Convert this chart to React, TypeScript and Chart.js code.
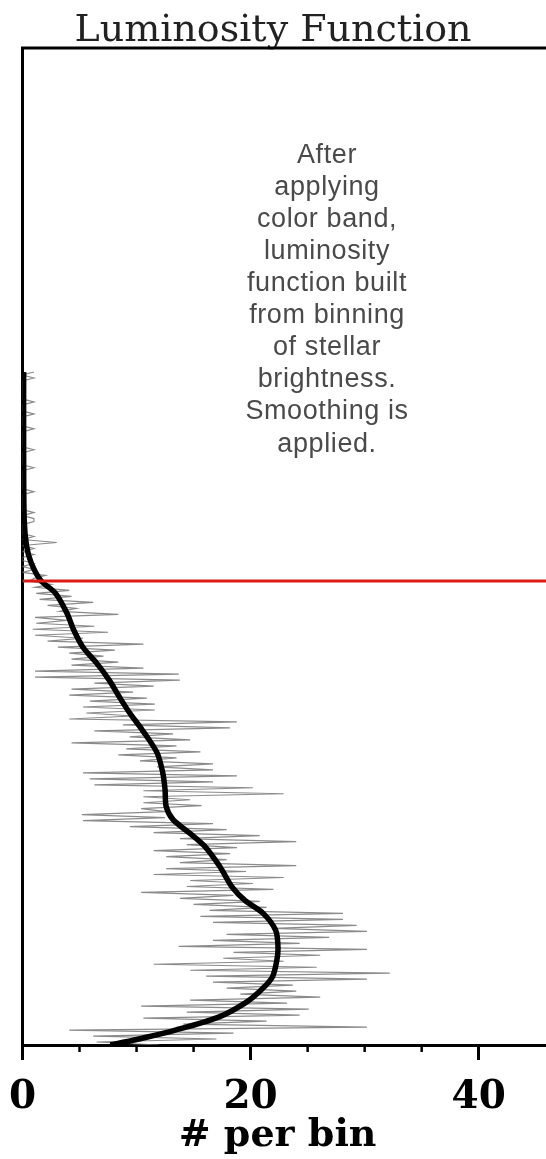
import React, { useEffect, useRef } from "react";
import { Chart, registerables } from "chart.js";

Chart.register(...registerables);

// Gray raw histogram: counts per magnitude bin (bin width 0.03 mag, starting 17.25)
const grayStartMag = 17.25;
const grayBinWidth = 0.03;
const grayCounts = [
  1, 0, 1, 0, 0, 0, 0, 0, 0, 0,
  1, 0, 0, 0, 1, 0, 0, 0, 0, 1,
  0, 0, 0, 0, 0, 0, 1, 0, 0, 0,
  0, 0, 1, 0, 0, 0, 0, 0, 0, 0,
  1, 0, 0, 0, 0, 0, 0, 1, 0, 1,
  1, 0, 0, 0, 0, 1, 0, 3, 0, 1,
  0, 1, 0, 0, 1, 0, 1, 0, 2, 1,
  0.6, 2.5, 1.1, 4.1, 1.2, 4.3, 1.5, 6.2, 2.2, 4.7,
  3.3, 8.4, 1.1, 3.9, 1.2, 6.3, 0.9, 7.5, 1.1, 5.3,
  2.2, 10.6, 3.1, 8.1, 4.1, 7.1, 4.3, 8.4, 4.3, 10.6,
  1.1, 13.7, 1.1, 13.8, 6.3, 11.5, 4.3, 9.7, 4.1, 10.9,
  5.9, 11.6, 5.3, 11.6, 5.6, 9.7, 4.1, 18.8, 8.8, 18.2,
  6.3, 13.2, 9.4, 14.7, 4.3, 13.5, 9.1, 15.6, 8.4, 13.5,
  10.3, 16.7, 11.8, 16.7, 5.3, 18.8, 5.9, 16.7, 6.3, 20.2,
  10.6, 22.9, 10.6, 14.7, 10.6, 15.7, 10.4, 12.6, 5.2, 12.5,
  5.3, 16.7, 9.4, 17.9, 11.5, 20.8, 13.8, 24.0, 14.4, 18.8,
  11.5, 18.2, 12.6, 17.9, 13.8, 24.0, 12.6, 19.6, 11.5, 22.9,
  14.7, 20.2, 14.4, 22.0, 10.4, 18.5, 13.8, 20.8, 15.0, 21.4,
  16.4, 28.1, 15.6, 28.1, 16.7, 29.3, 22.0, 30.2, 17.9, 26.9,
  16.7, 24.3, 13.7, 30.2, 18.5, 26.1, 17.6, 22.9, 11.5, 25.8,
  14.7, 32.2, 16.1, 30.2, 16.7, 23.7, 17.9, 24.0, 19.1, 26.1,
  14.7, 23.2, 10.4, 25.1, 14.4, 24.3, 10.6, 21.4, 14.1, 30.2,
  4.1, 18.5, 6.2, 17.0, 6.5, 12.0,
];

// Smoothed luminosity function
const smoothMags = [
  17.25, 18.03, 18.73, 18.99, 19.16, 19.34, 19.47, 19.67, 19.84, 20.01,
  20.17, 20.34, 20.51, 20.67, 20.84, 21.07, 21.27, 21.44, 21.61, 21.74,
  21.87, 22.01, 22.21, 22.42, 22.55, 22.68, 22.85, 23.02, 23.15, 23.32,
  23.45, 23.58, 23.72, 23.85, 23.95, 24.0,
];
const smoothCounts = [
  0.1, 0.1, 0.15, 0.35, 0.75, 1.6, 2.9, 3.9, 4.5, 5.3,
  6.5, 7.6, 8.5, 9.4, 10.5, 11.8, 12.3, 12.5, 12.6, 13.2,
  14.6, 16.0, 17.3, 18.4, 19.5, 21.1, 22.2, 22.4, 22.3, 21.9,
  20.9, 19.5, 17.2, 13.4, 9.8, 7.7,
];

const redLineMag = 19.345;
const magTop = 14;
const magBottom = 24;
const countMin = 0;
const countMax = 45.9;
const majorStep = 20;
const minorTickValues = [5, 10, 15, 25, 30, 35];

const noteLines = [
  "After",
  "applying",
  "color band,",
  "luminosity",
  "function built",
  "from binning",
  "of stellar",
  "brightness.",
  "Smoothing is",
  "applied.",
];
const noteCount = 26.7;
const noteMag = 15.15;

const decorPlugin = {
  id: "decor",
  afterDraw(chart: any) {
    const { ctx, chartArea, scales } = chart;
    const xs = scales.x;
    const ys = scales.y;
    ctx.save();
    ctx.strokeStyle = "#000";
    ctx.lineWidth = 3;
    ctx.beginPath();
    ctx.moveTo(chartArea.left - 1.5, chartArea.top);
    ctx.lineTo(chartArea.right, chartArea.top);
    ctx.stroke();
    ctx.lineWidth = 2.5;
    for (const v of minorTickValues) {
      const px = xs.getPixelForValue(v);
      ctx.beginPath();
      ctx.moveTo(px, chartArea.bottom);
      ctx.lineTo(px, chartArea.bottom + 7);
      ctx.stroke();
    }
    ctx.fillStyle = "#4a4a4a";
    ctx.font = '27px "Liberation Sans", Arial, sans-serif';
    ctx.textAlign = "center";
    ctx.textBaseline = "alphabetic";
    try {
      (ctx as any).letterSpacing = "0.6px";
    } catch (e) {}
    const cx = xs.getPixelForValue(noteCount);
    const y0 = ys.getPixelForValue(noteMag);
    const step = (ys.getPixelForValue(magBottom) - ys.getPixelForValue(magTop)) * 0.0322;
    noteLines.forEach((t, i) => ctx.fillText(t, cx, y0 + i * step));
    ctx.restore();
  },
};

export default function App() {
  const canvasRef = useRef<HTMLCanvasElement | null>(null);

  useEffect(() => {
    if (!canvasRef.current) return;
    const grayData = grayCounts.map((c, i) => ({ x: c, y: grayStartMag + i * grayBinWidth }));
    const smoothData = smoothCounts.map((c, i) => ({ x: c, y: smoothMags[i] }));
    const redData = [
      { x: countMin, y: redLineMag },
      { x: countMax, y: redLineMag },
    ];
    const chart = new Chart(canvasRef.current, {
      type: "scatter",
      data: {
        datasets: [
          {
            data: redData,
            showLine: true,
            borderColor: "#dd1a14",
            borderWidth: 3,
            pointRadius: 0,
          },
          {
            data: smoothData,
            showLine: true,
            borderColor: "#000",
            borderWidth: 5.5,
            pointRadius: 0,
            tension: 0.3,
          },
          {
            data: grayData,
            showLine: true,
            borderColor: "rgba(110,110,110,0.8)",
            borderWidth: 1.2,
            pointRadius: 0,
            tension: 0,
          },
        ],
      },
      options: {
        animation: false,
        responsive: true,
        maintainAspectRatio: false,
        layout: { padding: 0 },
        plugins: {
          legend: { display: false },
          tooltip: { enabled: false },
          title: {
            display: true,
            text: "Luminosity Function",
            color: "#222",
            font: { family: '"DejaVu Serif", serif', size: 38, weight: "normal", lineHeight: 1 },
            padding: { top: 12, bottom: -2 },
          },
        },
        scales: {
          x: {
            type: "linear",
            position: "bottom",
            min: countMin,
            max: countMax,
            afterFit: (scale: any) => {
              scale.height = 114;
              scale.paddingLeft = 0;
              scale.paddingRight = 0;
            },
            ticks: {
              stepSize: majorStep,
              includeBounds: false,
              autoSkip: false,
              maxRotation: 0,
              padding: 14,
              color: "#000",
              font: { family: '"DejaVu Serif", serif', size: 39, weight: "bold" },
              callback: (v: any) => (Number(v) % majorStep === 0 ? String(v) : ""),
            },
            grid: {
              display: true,
              drawOnChartArea: false,
              drawTicks: true,
              tickLength: 15,
              tickWidth: 3,
              tickColor: "#000",
            },
            border: { display: true, color: "#000", width: 3 },
            title: {
              display: true,
              text: "# per bin\u00a0",
              color: "#000",
              font: { family: '"DejaVu Serif", serif', size: 38, weight: "bold", lineHeight: 1.2 },
              padding: { top: 0, bottom: 0 },
            },
          },
          y: {
            type: "linear",
            reverse: true,
            min: magTop,
            max: magBottom,
            afterFit: (scale: any) => {
              scale.width = 22.5;
            },
            ticks: { display: false },
            grid: { display: false, drawTicks: false },
            border: { display: true, color: "#000", width: 3 },
          },
        },
      },
      plugins: [decorPlugin],
    });
    return () => chart.destroy();
  }, []);

  return (
    <div style={{ position: "absolute", left: 0, top: 0, width: 546, height: 1159 }}>
      <canvas ref={canvasRef} />
    </div>
  );
}
